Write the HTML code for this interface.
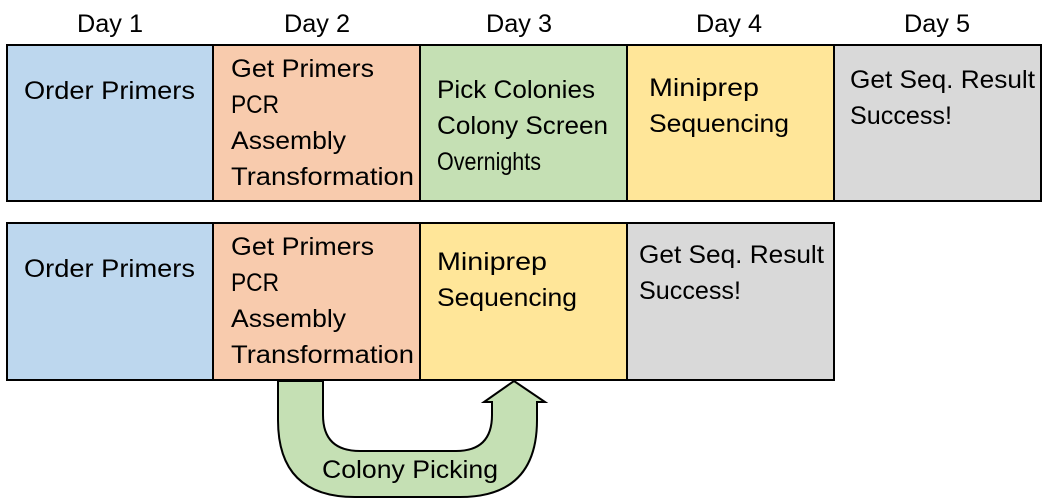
<!DOCTYPE html>
<html><head><style>body{margin:0;background:#fff}svg{display:block}text{font-family:"Liberation Sans",sans-serif;font-size:25px;fill:#000}</style></head>
<body>
<svg width="1049" height="502" viewBox="0 0 1049 502" xmlns="http://www.w3.org/2000/svg">
<g lengthAdjust="spacingAndGlyphs">
<text x="77" y="32" textLength="66" lengthAdjust="spacingAndGlyphs">Day 1</text>
<text x="284" y="32" textLength="66" lengthAdjust="spacingAndGlyphs">Day 2</text>
<text x="486" y="32" textLength="66" lengthAdjust="spacingAndGlyphs">Day 3</text>
<text x="696" y="32" textLength="66" lengthAdjust="spacingAndGlyphs">Day 4</text>
<text x="904" y="32" textLength="66" lengthAdjust="spacingAndGlyphs">Day 5</text>
</g>
<g stroke="#000" stroke-width="2">
<rect x="7" y="45" width="206" height="156" fill="#BDD7EE"/>
<rect x="213" y="45" width="207" height="156" fill="#F8CBAD"/>
<rect x="420" y="45" width="207" height="156" fill="#C5E0B4"/>
<rect x="627" y="45" width="207" height="156" fill="#FFE699"/>
<rect x="834" y="45" width="207" height="156" fill="#D9D9D9"/>
<rect x="7" y="223" width="206" height="157" fill="#BDD7EE"/>
<rect x="213" y="223" width="207" height="157" fill="#F8CBAD"/>
<rect x="420" y="223" width="207" height="157" fill="#FFE699"/>
<rect x="627" y="223" width="207" height="157" fill="#D9D9D9"/>
</g>
<text x="24" y="99" textLength="171" lengthAdjust="spacingAndGlyphs">Order Primers</text>
<text x="231" y="77" textLength="143" lengthAdjust="spacingAndGlyphs">Get Primers</text>
<text x="231" y="113" textLength="48" lengthAdjust="spacingAndGlyphs">PCR</text>
<text x="231" y="149" textLength="115" lengthAdjust="spacingAndGlyphs">Assembly</text>
<text x="231" y="185" textLength="183" lengthAdjust="spacingAndGlyphs">Transformation</text>
<text x="437" y="98" textLength="158" lengthAdjust="spacingAndGlyphs">Pick Colonies</text>
<text x="437" y="134" textLength="171" lengthAdjust="spacingAndGlyphs">Colony Screen</text>
<text x="437" y="170" textLength="104" lengthAdjust="spacingAndGlyphs">Overnights</text>
<text x="649" y="96" textLength="110" lengthAdjust="spacingAndGlyphs">Miniprep</text>
<text x="649" y="132" textLength="140" lengthAdjust="spacingAndGlyphs">Sequencing</text>
<text x="850" y="88" textLength="185" lengthAdjust="spacingAndGlyphs">Get Seq. Result</text>
<text x="850" y="124" textLength="102" lengthAdjust="spacingAndGlyphs">Success!</text>
<text x="24" y="277" textLength="171" lengthAdjust="spacingAndGlyphs">Order Primers</text>
<text x="231" y="255" textLength="143" lengthAdjust="spacingAndGlyphs">Get Primers</text>
<text x="231" y="291" textLength="48" lengthAdjust="spacingAndGlyphs">PCR</text>
<text x="231" y="327" textLength="115" lengthAdjust="spacingAndGlyphs">Assembly</text>
<text x="231" y="363" textLength="183" lengthAdjust="spacingAndGlyphs">Transformation</text>
<text x="437" y="270" textLength="110" lengthAdjust="spacingAndGlyphs">Miniprep</text>
<text x="437" y="306" textLength="140" lengthAdjust="spacingAndGlyphs">Sequencing</text>
<text x="639" y="263" textLength="185" lengthAdjust="spacingAndGlyphs">Get Seq. Result</text>
<text x="639" y="299" textLength="102" lengthAdjust="spacingAndGlyphs">Success!</text>
<path d="M278 381 L278 420 Q278 497 355 497 L460 497 Q537 497 537 420 L537 402 L545 402 L514 381 L484 402 L492 402 L492 415 Q492 451 456 451 L360 451 Q323 451 323 415 L323 381 Z" fill="#C5E0B4" stroke="#000" stroke-width="2"/>
<text x="322" y="478" textLength="176" lengthAdjust="spacingAndGlyphs">Colony Picking</text>
</svg>
</body></html>
